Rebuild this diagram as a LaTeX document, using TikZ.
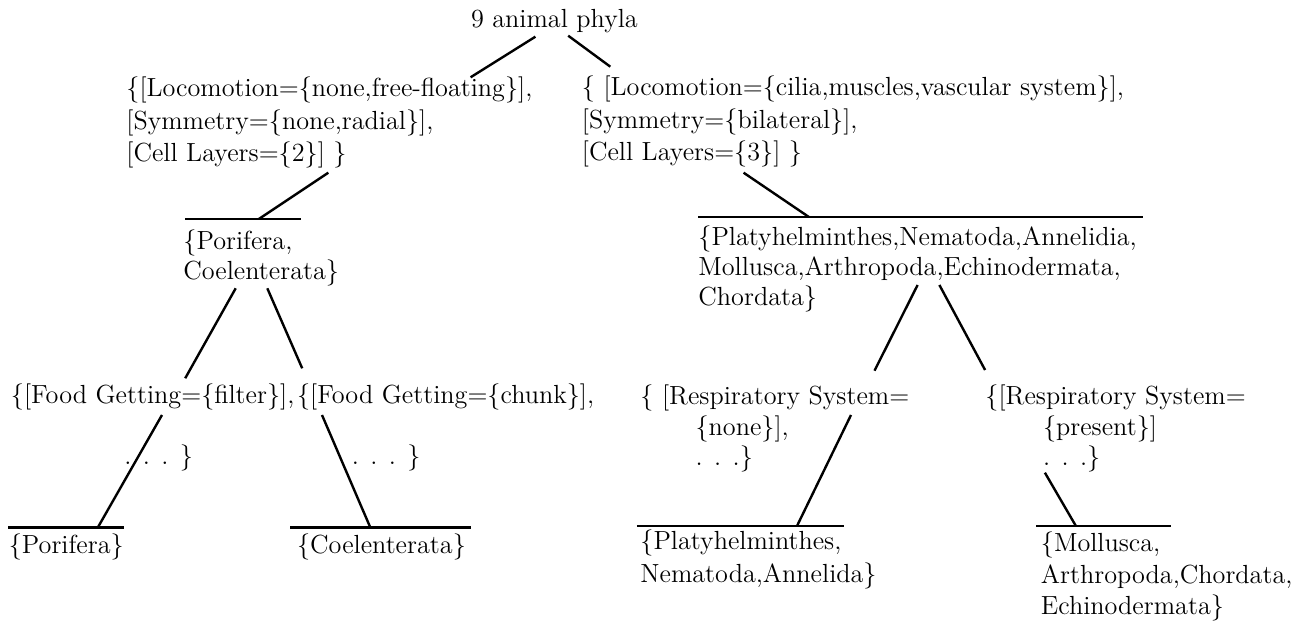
\documentclass[tikz,border=0pt]{standalone}
\begin{document}
\begin{tikzpicture}[x=0.5pt,y=-0.5pt,
  txt/.style={anchor=base west, inner sep=0pt, align=left, font=\fontsize{13.1}{15.7}\selectfont},
  conn/.style={line width=1.2pt},
  bar/.style={line width=1.3pt}]
\useasboundingbox (0,0) rectangle (1314,624);
% text nodes (anchored at the baseline of their last line)
\node[txt] (root) at (470.6,28) {9 animal phyla};
\node[txt, font=\fontsize{13.1}{16.25}\selectfont] (lb) at (126,162) {\{[Locomotion=\{none,free-floating\}],\\{[}Symmetry=\{none,radial\}],\\{[}Cell Layers=\{2\}] \}};
\node[txt, font=\fontsize{13.1}{16.25}\selectfont] (rb) at (581.5,161) {\{ [Locomotion=\{cilia,muscles,vascular system\}],\\{[}Symmetry=\{bilateral\}],\\{[}Cell Layers=\{3\}] \}};
\node[txt, font=\fontsize{13.1}{15}\selectfont] (pc) at (183,280) {\{Porifera,\\Coelenterata\}};
\node[txt, font=\fontsize{13.1}{15}\selectfont] (pl) at (698,306) {\{Platyhelminthes,Nematoda,Annelidia,\\Mollusca,Arthropoda,Echinodermata,\\Chordata\}};
\node[txt] (fl) at (10.5,465) {\{[Food Getting=\{filter\}],\\[14.8pt]\hspace*{56.75pt}. . . \}};
\node[txt] (fr) at (296.7,465) {\{[Food Getting=\{chunk\}],\\[14.8pt]\hspace*{27.4pt}. . . \}};
\node[txt, font=\fontsize{13.1}{15.25}\selectfont] (rl) at (640,466) {\{ [Respiratory System=\\\hspace*{27.6pt}\{none\}],\\\hspace*{27.6pt}. . .\}};
\node[txt, font=\fontsize{13.1}{15.25}\selectfont] (rr) at (985,466) {\{[Respiratory System=\\\hspace*{28.8pt}\{present\}]\\\hspace*{28.8pt}. . .\}};
\node[txt] (lp) at (8.4,554) {\{Porifera\}};
\node[txt] (lc) at (296.7,554) {\{Coelenterata\}};
\node[txt, font=\fontsize{13.1}{16.5}\selectfont] (lpn) at (640,583) {\{Platyhelminthes,\\Nematoda,Annelida\}};
\node[txt, font=\fontsize{13.1}{15.75}\selectfont] (lma) at (1040.5,615) {\{Mollusca,\\Arthropoda,Chordata,\\Echinodermata\}};
% bars
\coordinate (b1w) at (185.2,219);  \coordinate (b1e) at (301,219);
\coordinate (b2w) at (698.2,217);  \coordinate (b2e) at (1143,217);
\coordinate (b3w) at (8.4,527.7);  \coordinate (b3e) at (124.2,527.7);
\coordinate (b4w) at (290.4,527.7);\coordinate (b4e) at (470.6,527.7);
\coordinate (b5w) at (636.8,526);  \coordinate (b5e) at (843.5,526);
\coordinate (b6w) at (1036,526);   \coordinate (b6e) at (1171,526);
\foreach \i in {1,...,6} \draw[bar] (b\i w) -- (b\i e);
% connector end points
\coordinate (c1a) at (535.4,36.7);  \coordinate (c1b) at (470.6,77.3);
\coordinate (c2a) at (568.2,35.7);  \coordinate (c2b) at (610.3,66.7);
\coordinate (c3a) at (328.3,172.7); \coordinate (c3b) at (258.9,219);
\coordinate (c4a) at (743.6,172.7); \coordinate (c4b) at (808.9,217);
\coordinate (c5a) at (235.7,288.3); \coordinate (c5b) at (185.2,378.3);
\coordinate (c6a) at (267.3,288.3); \coordinate (c6b) at (302.2,368.3);
\coordinate (c7a) at (162,415);     \coordinate (c7b) at (97.7,527.7);
\coordinate (c8a) at (322,415);     \coordinate (c8b) at (370.4,527.7);
\coordinate (c9a) at (917.6,285);   \coordinate (c9b) at (874.5,370.7);
\coordinate (c10a) at (939.4,285);  \coordinate (c10b) at (985.1,370);
\coordinate (c11a) at (851,415);    \coordinate (c11b) at (797,526);
\coordinate (c12a) at (1044.9,472.7); \coordinate (c12b) at (1075.9,526);
\foreach \i in {1,...,12} \draw[conn] (c\i a) -- (c\i b);
\end{tikzpicture}
\end{document}
